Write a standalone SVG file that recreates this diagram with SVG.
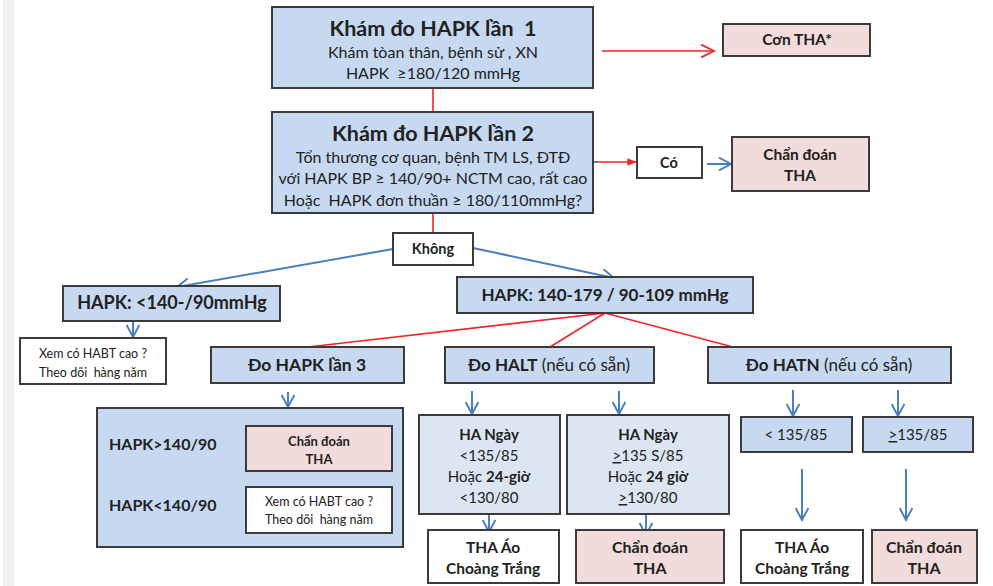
<svg xmlns="http://www.w3.org/2000/svg" width="993" height="586" viewBox="0 0 993 586">
  <style>
    text { font-family: Lato, "Open Sans", "Liberation Sans", sans-serif; fill: #222; text-anchor: middle; white-space: pre; }
    .b { font-weight: bold; }
    .box { stroke: #3b3b3b; stroke-width: 2; }
    .blue { fill: #c6d9f1; }
    .pale { fill: #dce6f2; }
    .pink { fill: #f2dcdb; }
    .white { fill: #ffffff; }
    .red { stroke: #f0252a; stroke-width: 1.6; fill: none; }
    .bl { stroke: #4a7fc1; stroke-width: 2; fill: none; }
  </style>
  <defs>
    <marker id="vBlue" viewBox="0 0 10 10" refX="9" refY="5" markerWidth="8" markerHeight="8" orient="auto" markerUnits="strokeWidth">
      <path d="M1.5,1 L9,5 L1.5,9" fill="none" stroke="#4a7fc1" stroke-width="1.2"/>
    </marker>
    <marker id="vRed" viewBox="0 0 10 10" refX="9" refY="5" markerWidth="10" markerHeight="10" orient="auto" markerUnits="strokeWidth">
      <path d="M1,1 L9,5 L1,9" fill="none" stroke="#f0252a" stroke-width="1.1"/>
    </marker>
    <marker id="tRed" viewBox="0 0 10 10" refX="9" refY="5" markerWidth="6" markerHeight="6" orient="auto" markerUnits="strokeWidth">
      <path d="M0,1 L10,5 L0,9 Z" fill="#f0252a"/>
    </marker>
  </defs>

  <rect width="993" height="586" fill="#ffffff"/>
  <!-- left margin strip -->
  <rect x="3" y="0" width="11" height="586" fill="#f0f0f0"/>

  <!-- connectors -->
  <g id="connectors">
    <line class="red" x1="433" y1="88" x2="433" y2="112"/>
    <line class="red" x1="602" y1="51" x2="714" y2="51" marker-end="url(#vRed)"/>
    <line x1="593" y1="162" x2="598" y2="162" stroke="#777" stroke-width="2"/>
    <line class="red" x1="598" y1="162" x2="636" y2="162" marker-end="url(#tRed)"/>
    <line class="bl" x1="707" y1="164" x2="731" y2="164" marker-end="url(#vBlue)"/>
    <line class="red" x1="433" y1="213" x2="433" y2="233"/>
    <line class="bl" x1="393" y1="249" x2="177" y2="287" marker-end="url(#vBlue)"/>
    <line class="bl" x1="473" y1="248" x2="614" y2="278" marker-end="url(#vBlue)"/>
    <line class="bl" x1="133" y1="322" x2="133" y2="337" marker-end="url(#vBlue)"/>
    <line class="red" x1="605" y1="313" x2="308" y2="347"/>
    <line class="red" x1="605" y1="313" x2="550" y2="347"/>
    <line class="red" x1="605" y1="313" x2="733" y2="347"/>
    <line class="bl" x1="288" y1="392" x2="288" y2="407" marker-end="url(#vBlue)"/>
    <line class="bl" x1="220" y1="443" x2="244" y2="443" marker-end="url(#vBlue)"/>
    <line class="bl" x1="220" y1="505" x2="244" y2="505" marker-end="url(#vBlue)"/>
    <line class="bl" x1="472" y1="391" x2="472" y2="414" marker-end="url(#vBlue)"/>
    <line class="bl" x1="619" y1="391" x2="619" y2="414" marker-end="url(#vBlue)"/>
    <line class="bl" x1="489" y1="514" x2="489" y2="532" marker-end="url(#vBlue)"/>
    <line class="bl" x1="646" y1="514" x2="646" y2="535" marker-end="url(#vBlue)"/>
    <line class="bl" x1="793" y1="390" x2="793" y2="416" marker-end="url(#vBlue)"/>
    <line class="bl" x1="898" y1="390" x2="898" y2="416" marker-end="url(#vBlue)"/>
    <line class="bl" x1="802" y1="469" x2="802" y2="520" marker-end="url(#vBlue)"/>
    <line class="bl" x1="906" y1="469" x2="906" y2="520" marker-end="url(#vBlue)"/>
  </g>

  <g id="kham1">
    <rect class="box blue" x="272" y="7" width="321" height="81"/>
    <text class="b" x="433" y="36" font-size="21.5">Khám đo HAPK lần  1</text>
    <text x="433" y="58" font-size="16">Khám tòan thân, bệnh sử , XN</text>
    <text x="433" y="79" font-size="16">HAPK  ≥180/120 mmHg</text>
  </g>

  <g id="con-tha">
    <rect class="box pink" x="723" y="24" width="147" height="32"/>
    <text class="b" x="797" y="45" font-size="15.5">Cơn THA*</text>
  </g>

  <g id="kham2">
    <rect class="box blue" x="272" y="112" width="321" height="101"/>
    <text class="b" x="433" y="141" font-size="21.5">Khám đo HAPK lần 2</text>
    <text x="433" y="163" font-size="16">Tổn thương cơ quan, bệnh TM LS, ĐTĐ</text>
    <text x="433" y="184" font-size="16">với HAPK BP ≥ 140/90+ NCTM cao, rất cao</text>
    <text x="433" y="206" font-size="16">Hoặc  HAPK đơn thuần ≥ 180/110mmHg?</text>
  </g>

  <g id="co">
    <rect class="box white" x="637" y="147" width="65" height="31"/>
    <text class="b" x="669" y="168" font-size="14.5">Có</text>
  </g>

  <g id="chan-doan-1">
    <rect class="box pink" x="732" y="137" width="137" height="54"/>
    <text class="b" x="800" y="160" font-size="15.5">Chẩn đoán</text>
    <text class="b" x="800" y="181" font-size="15.5">THA</text>
  </g>

  <g id="khong">
    <rect class="box white" x="393" y="233" width="80" height="32"/>
    <text class="b" x="433" y="254" font-size="14.5">Không</text>
  </g>

  <g id="hapk-low">
    <rect class="box blue" x="63" y="286" width="217" height="35"/>
    <text class="b" x="172" y="309" font-size="18">HAPK: &lt;140-/90mmHg</text>
  </g>

  <g id="theo-doi-1">
    <rect class="box white" x="20" y="338" width="146" height="46"/>
    <text x="93" y="358" font-size="12.5">Xem có HABT cao ?</text>
    <text x="93" y="377" font-size="12.5">Theo dõi  hàng năm</text>
  </g>

  <g id="hapk-mid">
    <rect class="box blue" x="457" y="277" width="296" height="36"/>
    <text class="b" x="605" y="301" font-size="17">HAPK: 140-179 / 90-109 mmHg</text>
  </g>

  <g id="do-lan3">
    <rect class="box blue" x="211" y="347" width="193" height="36"/>
    <text class="b" x="307" y="371" font-size="17.5">Đo HAPK lần 3</text>
  </g>

  <g id="do-halt">
    <rect class="box blue" x="445" y="347" width="209" height="36"/>
    <text x="549" y="371" font-size="17"><tspan class="b">Đo HALT</tspan> (nếu có sẵn)</text>
  </g>

  <g id="do-hatn">
    <rect class="box blue" x="708" y="347" width="243" height="36"/>
    <text x="829" y="371" font-size="17"><tspan class="b">Đo HATN</tspan> (nếu có sẵn)</text>
  </g>

  <g id="lan3-ketqua">
    <rect class="box blue" x="97" y="408" width="306" height="139"/>
    <text class="b" x="109" y="450" font-size="16" style="text-anchor:start">HAPK&gt;140/90</text>
    <text class="b" x="109" y="511" font-size="16" style="text-anchor:start">HAPK&lt;140/90</text>
  </g>

  <g id="chan-doan-2">
    <rect class="box pink" x="246" y="426" width="146" height="45"/>
    <text class="b" x="319" y="446" font-size="13">Chẩn đoán</text>
    <text class="b" x="319" y="464" font-size="13">THA</text>
  </g>

  <g id="theo-doi-2">
    <rect class="box white" x="246" y="487" width="146" height="46"/>
    <text x="319" y="506" font-size="12.5">Xem có HABT cao ?</text>
    <text x="319" y="524" font-size="12.5">Theo dõi  hàng năm</text>
  </g>

  <g id="halt-thap">
    <rect class="box pale" x="419" y="415" width="141" height="99"/>
    <text class="b" x="489" y="440" font-size="15">HA Ngày</text>
    <text x="489" y="461" font-size="15">&lt;135/85</text>
    <text x="489" y="482" font-size="15">Hoặc <tspan class="b">24-giờ</tspan></text>
    <text x="489" y="503" font-size="15">&lt;130/80</text>
  </g>

  <g id="halt-cao">
    <rect class="box pale" x="567" y="415" width="162" height="99"/>
    <text class="b" x="648" y="440" font-size="15">HA Ngày</text>
    <text x="648" y="461" font-size="15"><tspan text-decoration="underline">&gt;</tspan>135 S/85</text>
    <text x="648" y="482" font-size="15">Hoặc <tspan class="b">24 giờ</tspan></text>
    <text x="648" y="503" font-size="15"><tspan text-decoration="underline">&gt;</tspan>130/80</text>
  </g>

  <g id="halt-ao-choang">
    <rect class="box white" x="428" y="530" width="131" height="53"/>
    <text class="b" x="493" y="553" font-size="15.5">THA Áo</text>
    <text class="b" x="493" y="574" font-size="15.5">Choàng Trắng</text>
  </g>

  <g id="halt-chan-doan">
    <rect class="box pink" x="576" y="530" width="148" height="53"/>
    <text class="b" x="650" y="553" font-size="16">Chẩn đoán</text>
    <text class="b" x="650" y="574" font-size="16">THA</text>
  </g>

  <g id="hatn-thap">
    <rect class="box blue" x="741" y="417" width="111" height="35"/>
    <text x="796" y="440" font-size="15">&lt; 135/85</text>
  </g>

  <g id="hatn-cao">
    <rect class="box blue" x="863" y="417" width="110" height="35"/>
    <text x="918" y="440" font-size="15"><tspan text-decoration="underline">&gt;</tspan>135/85</text>
  </g>

  <g id="hatn-ao-choang">
    <rect class="box white" x="741" y="530" width="122" height="53"/>
    <text class="b" x="802" y="553" font-size="15.5">THA Áo</text>
    <text class="b" x="802" y="574" font-size="15.5">Choàng Trắng</text>
  </g>

  <g id="hatn-chan-doan">
    <rect class="box pink" x="872" y="530" width="105" height="53"/>
    <text class="b" x="924" y="553" font-size="16">Chẩn đoán</text>
    <text class="b" x="924" y="574" font-size="16">THA</text>
  </g>
</svg>
